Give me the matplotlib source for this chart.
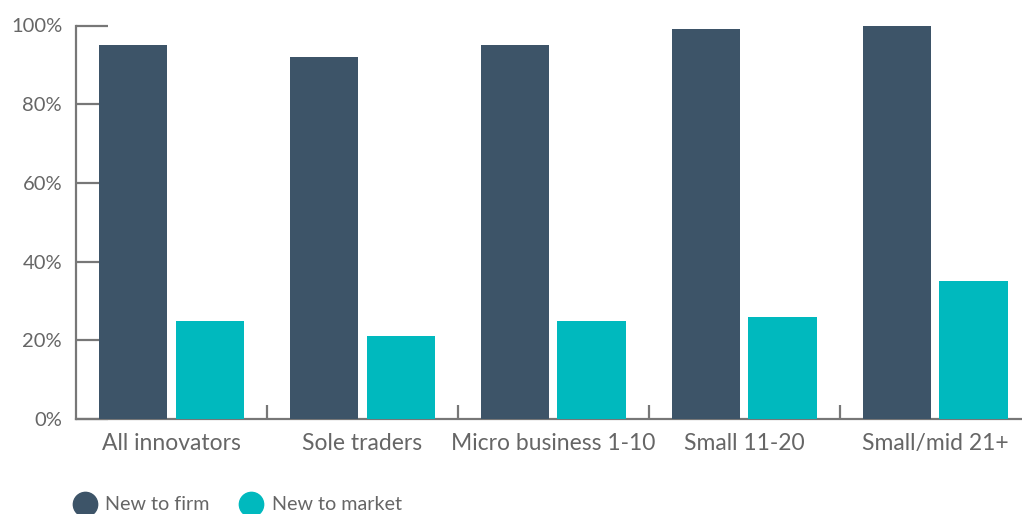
import numpy as np
import matplotlib
matplotlib.use("Agg")
import matplotlib.pyplot as plt
from matplotlib.lines import Line2D

categories = ['All innovators', 'Sole traders', 'Micro business 1-10', 'Small 11-20', 'Small/mid 21+']
new_to_firm = [95, 92, 95, 99, 100]
new_to_market = [25, 21, 25, 26, 35]
series_names = ['New to firm', 'New to market']

dark = '#3d5468'
teal = '#00b9be'
grey = '#666666'
axis_grey = '#777777'

plt.rcParams['font.family'] = ['Lato', 'DejaVu Sans']

fig = plt.figure(figsize=(10.22, 5.14), dpi=100)
ax = fig.add_axes([76 / 1022, 95 / 514, 946 / 1022, 393.5 / 514])
ax.set_axisbelow(True)

x = np.arange(len(categories))
w = 0.361
gap = 0.042
ax.bar(x - (w + gap) / 2, new_to_firm, width=w, color=dark, zorder=2)
ax.bar(x + (w + gap) / 2, new_to_market, width=w, color=teal, zorder=2)

ax.set_xlim(-0.5, 4.453)
ax.set_ylim(0, 100)

for s in ['top', 'right']:
    ax.spines[s].set_visible(False)
for s in ['left', 'bottom']:
    ax.spines[s].set_color(axis_grey)
    ax.spines[s].set_linewidth(1.6)
    ax.spines[s].set_zorder(0)

ax.set_yticks(range(0, 101, 20))
ax.set_yticklabels([f'{v}%' for v in range(0, 101, 20)])
ax.tick_params(axis='y', direction='in', length=23, width=1.6, color=axis_grey,
               labelsize=14.5, labelcolor=grey, pad=10)

# category labels at group centres, separator ticks between groups
ax.set_xticks(x)
ax.set_xticklabels(categories)
ax.tick_params(axis='x', length=0, labelsize=16.5, labelcolor=grey, pad=10)
ax.set_xticks(np.arange(0.5, len(categories) - 0.5), minor=True)
ax.tick_params(axis='x', which='minor', direction='in', length=10, width=1.6, color=axis_grey)

handles = [Line2D([], [], marker='o', linestyle='none', markersize=17.5, color=c)
           for c in (dark, teal)]
leg = fig.legend(handles, series_names, loc='center left', bbox_to_anchor=(72.8 / 1022, 9 / 514),
                 ncol=2, frameon=False, fontsize=14.2, handletextpad=0.4, columnspacing=1.5,
                 handlelength=1.24, borderaxespad=0, borderpad=0)
for t in leg.get_texts():
    t.set_color(grey)

fig.savefig('out.png', dpi=100)
